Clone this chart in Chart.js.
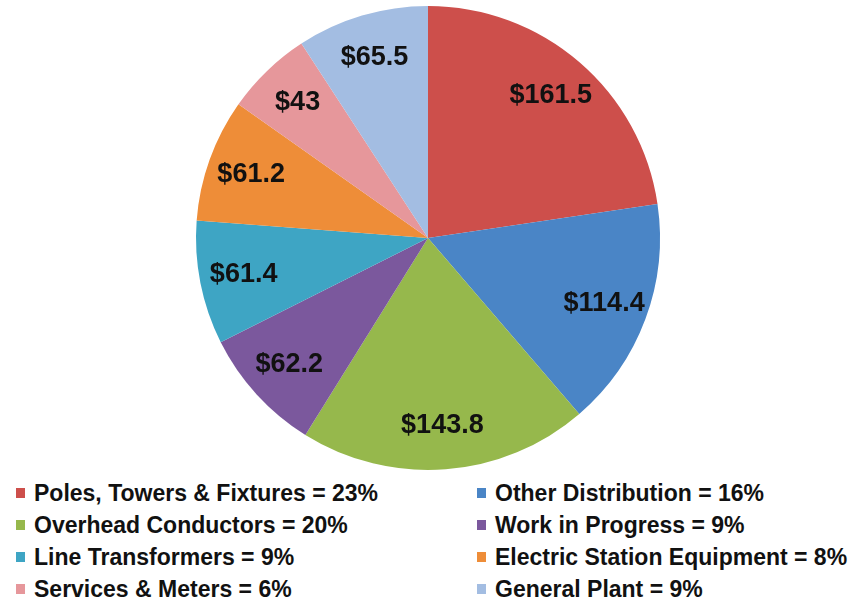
<!DOCTYPE html>
<html>
<head>
<meta charset="utf-8">
<script src="https://cdn.jsdelivr.net/npm/chart.js@4"></script>
<style>
    body { margin: 0; background: #fff; font-family: "Liberation Sans", Arial, sans-serif; }
    #wrap { position: relative; width: 849px; height: 604px; }
    #chart-box { position: absolute; left: 0; top: 0; width: 849px; height: 476px; }
    #legend { position: absolute; left: 0; top: 477px; width: 849px; }
    .item { position: absolute; font-weight: bold; font-size: 23px; color: #111; white-space: nowrap; line-height: 32px; }
    .item span.box { position: absolute; width: 9px; height: 10px; top: 11px; }
</style>
</head>
<body>
<div id="wrap">
    <div id="chart-box"><canvas id="pie"></canvas></div>
    <div id="legend"></div>
</div>
<script>
const categories = ['Poles, Towers & Fixtures', 'Other Distribution', 'Overhead Conductors', 'Work in Progress',
    'Line Transformers', 'Electric Station Equipment', 'Services & Meters', 'General Plant'];
const values = [161.5, 114.4, 143.8, 62.2, 61.4, 61.2, 43, 65.5];
const percents = [23, 16, 20, 9, 9, 8, 6, 9];
const colors = ['#cd4f4b', '#4a85c6', '#96b84c', '#7b589d', '#3ea5c4', '#ee8d38', '#e6979b', '#a3bde2'];

// Value labels inside each slice
const sliceLabels = {
    id: 'sliceLabels',
    afterDatasetsDraw(chart) {
        const ctx = chart.ctx;
        const meta = chart.getDatasetMeta(0);
        ctx.save();
        ctx.font = 'bold 27px "Liberation Sans", Arial, sans-serif';
        ctx.fillStyle = '#111';
        ctx.textAlign = 'center';
        ctx.textBaseline = 'middle';
        meta.data.forEach((arc, i) => {
            const p = arc.getProps(['x', 'y', 'startAngle', 'endAngle', 'outerRadius'], true);
            const mid = (p.startAngle + p.endAngle) / 2;
            const d = p.outerRadius * 0.81;
            ctx.fillText('$' + values[i], p.x + Math.cos(mid) * d, p.y + Math.sin(mid) * d);
        });
        ctx.restore();
    }
};

new Chart(document.getElementById('pie').getContext('2d'), {
    type: 'pie',
    data: {
        labels: categories,
        datasets: [{
            data: values,
            backgroundColor: colors,
            borderWidth: 0
        }]
    },
    options: {
        responsive: true,
        maintainAspectRatio: false,
        animation: false,
        layout: { padding: { top: 6, bottom: 6, left: 7 } },
        plugins: {
            legend: { display: false },
            tooltip: { enabled: false }
        }
    },
    plugins: [sliceLabels]
});

// Two-column legend
const legend = document.getElementById('legend');
categories.forEach((name, i) => {
    const col = i % 2, row = Math.floor(i / 2);
    const div = document.createElement('div');
    div.className = 'item';
    div.style.left = (col ? 495 : 34) + 'px';
    div.style.top = (row * 32) + 'px';
    div.innerHTML = `<span class="box" style="left:-18px;background:${colors[i]}"></span>${name} = ${percents[i]}%`;
    legend.appendChild(div);
});
</script>
</body>
</html>
